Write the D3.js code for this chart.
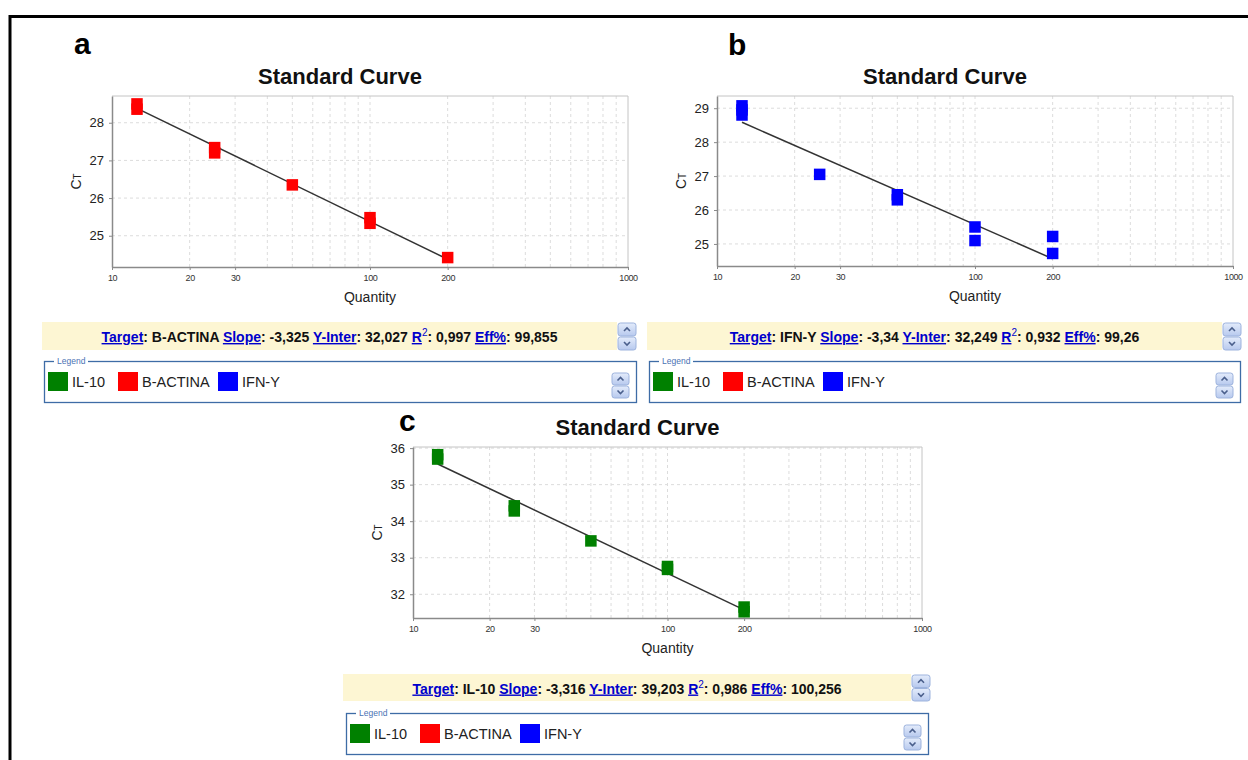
<!DOCTYPE html>
<html>
<head>
<meta charset="utf-8">
<script src="https://cdn.jsdelivr.net/npm/d3@7"></script>
<style>
  body { margin: 0; background: #fff; }
  svg { display: block; font-family: Arial, "Liberation Sans", sans-serif; }
</style>
</head>
<body>
<svg id="chart" width="1248" height="760"></svg>
<script>
// ---- data (quantity vs Ct, replicates) ----
const bActinaQty = [12.5, 12.5, 25, 25, 50, 100, 100, 200];
const bActinaCt  = [28.5, 28.36, 27.34, 27.2, 26.35, 25.48, 25.33, 24.42];
const bActinaStats = ["B-ACTINA", "-3,325", "32,027", "0,997", "99,855"];

const ifnQty = [12.5, 12.5, 12.5, 25, 50, 50, 100, 100, 200, 200];
const ifnCt  = [29.07, 28.95, 28.8, 27.05, 26.45, 26.3, 25.5, 25.1, 25.22, 24.72];
const ifnStats = ["IFN-Y", "-3,34", "32,249", "0,932", "99,26"];

const il10Qty = [12.5, 12.5, 25, 25, 50, 100, 100, 200, 200];
const il10Ct  = [35.82, 35.7, 34.42, 34.28, 33.46, 32.76, 32.68, 31.65, 31.52];
const il10Stats = ["IL-10", "-3,316", "39,203", "0,986", "100,256"];

const xTickLabels = [10, 20, 30, 100, 200, 1000];
const legendNames = ["IL-10", "B-ACTINA", "IFN-Y"];
const legendColors = ["#008000", "#ff0000", "#0000ff"];

const panels = [
  { letter: "a", qty: bActinaQty, ct: bActinaCt, stats: bActinaStats, color: "#ff0000",
    yDomain: [24.17, 28.71], yTicks: [25, 26, 27, 28],
    x0: 112, x1: 628, y0: 96, y1: 267, letterPos: [74, 54],
    bar: { x: 42, y: 322, w: 575, h: 28 }, legend: { x: 44, y: 361, w: 592, h: 41 } },
  { letter: "b", qty: ifnQty, ct: ifnCt, stats: ifnStats, color: "#0000ff",
    yDomain: [24.35, 29.36], yTicks: [25, 26, 27, 28, 29],
    x0: 717, x1: 1233, y0: 96, y1: 266, letterPos: [728, 55],
    bar: { x: 647, y: 322, w: 575, h: 28 }, legend: { x: 649, y: 361, w: 591, h: 41 } },
  { letter: "c", qty: il10Qty, ct: il10Ct, stats: il10Stats, color: "#008000",
    yDomain: [31.35, 36.03], yTicks: [32, 33, 34, 35, 36],
    x0: 413, x1: 922, y0: 447, y1: 618, letterPos: [399, 431],
    bar: { x: 343, y: 674, w: 568, h: 27 }, legend: { x: 346, y: 713, w: 582, h: 41 } }
];

const svg = d3.select("#chart");

// blue scroll-button gradient
const defs = svg.append("defs");
const grad = defs.append("linearGradient").attr("id", "btn").attr("x1", 0).attr("y1", 0).attr("x2", 0).attr("y2", 1);
grad.append("stop").attr("offset", "0%").attr("stop-color", "#e4ecfb");
grad.append("stop").attr("offset", "100%").attr("stop-color", "#b7c9ee");

// outer black frame
svg.append("rect")
  .attr("x", 10).attr("y", 16.5).attr("width", 1260).attr("height", 760)
  .attr("fill", "none").attr("stroke", "#000").attr("stroke-width", 3);

function scrollButtons(g, x, y, w, h) {
  [0, 1].forEach(i => {
    const by = y + i * (h / 2 + 0.5);
    g.append("rect")
      .attr("x", x).attr("y", by).attr("width", w).attr("height", h / 2 - 0.5)
      .attr("rx", 2.5).attr("fill", "url(#btn)").attr("stroke", "#9db3dd");
    const cx = x + w / 2, cy = by + (h / 2 - 0.5) / 2;
    const d = i === 0
      ? `M${cx - 3},${cy + 1.5}L${cx},${cy - 1.5}L${cx + 3},${cy + 1.5}`
      : `M${cx - 3},${cy - 1.5}L${cx},${cy + 1.5}L${cx + 3},${cy - 1.5}`;
    g.append("path").attr("d", d).attr("fill", "none").attr("stroke", "#4a5f8c").attr("stroke-width", 1.6);
  });
}

panels.forEach(p => {
  const g = svg.append("g");

  const x = d3.scaleLog().domain([10, 1000]).range([p.x0, p.x1]);
  const y = d3.scaleLinear().domain(p.yDomain).range([p.y1, p.y0]);

  // panel letter
  g.append("text")
    .attr("x", p.letterPos[0]).attr("y", p.letterPos[1])
    .attr("font-size", 30).attr("font-weight", "bold").text(p.letter);

  // title
  g.append("text")
    .attr("x", (p.x0 + p.x1) / 2 - 30).attr("y", p.y0 - 12)
    .attr("text-anchor", "middle").attr("font-size", 22).attr("font-weight", "bold")
    .attr("fill", "#111").text("Standard Curve");

  // grid
  g.append("g").selectAll("line").data(x.ticks().filter(d => d > 10 && d < 1000))
    .join("line")
    .attr("x1", d => x(d)).attr("x2", d => x(d)).attr("y1", p.y0).attr("y2", p.y1)
    .attr("stroke", "#dcdcdc").attr("stroke-dasharray", "3,3");
  g.append("g").selectAll("line").data(p.yTicks.filter(d => y(d) > p.y0 + 1))
    .join("line")
    .attr("x1", p.x0).attr("x2", p.x1).attr("y1", d => y(d)).attr("y2", d => y(d))
    .attr("stroke", "#dcdcdc").attr("stroke-dasharray", "3,3");

  // top / right frame
  g.append("path")
    .attr("d", `M${p.x0},${p.y0}H${p.x1}V${p.y1}`)
    .attr("fill", "none").attr("stroke", "#c4c4c4");

  // axes
  const xAxis = g.append("g").attr("transform", `translate(0,${p.y1})`)
    .call(d3.axisBottom(x).tickValues(xTickLabels).tickFormat(d3.format("d")).tickSize(3).tickSizeOuter(0).tickPadding(5));
  xAxis.selectAll("text").attr("font-size", 9).attr("fill", "#333").attr("letter-spacing", "-0.4");
  const yAxis = g.append("g").attr("transform", `translate(${p.x0},0)`)
    .call(d3.axisLeft(y).tickValues(p.yTicks).tickFormat(d3.format("d")).tickSize(3).tickSizeOuter(0).tickPadding(5));
  yAxis.selectAll("text").attr("font-size", 13).attr("fill", "#222");
  [xAxis, yAxis].forEach(a => {
    a.select(".domain").attr("stroke", "#8a8a8a").attr("stroke-width", 1.5);
    a.selectAll(".tick line").attr("stroke", "#8a8a8a");
    a.attr("font-family", null);
  });

  // axis titles
  g.append("text")
    .attr("x", (p.x0 + p.x1) / 2).attr("y", p.y1 + 35)
    .attr("text-anchor", "middle").attr("font-size", 14).attr("fill", "#222").text("Quantity");
  const ct = g.append("text")
    .attr("transform", `translate(${p.x0 - 31},${(p.y0 + p.y1) / 2}) rotate(-90)`)
    .attr("text-anchor", "middle").attr("fill", "#222");
  ct.append("tspan").attr("font-size", 14).text("C");
  ct.append("tspan").attr("font-size", 10).text("T");

  // fitted line from slope / intercept
  const slope = +p.stats[1].replace(",", ".");
  const inter = +p.stats[2].replace(",", ".");
  const ends = d3.extent(p.qty);
  g.append("path")
    .datum(ends)
    .attr("fill", "none").attr("stroke", "#333").attr("stroke-width", 1.5)
    .attr("d", d3.line().x(d => x(d)).y(d => y(slope * Math.log10(d) + inter)));

  // markers
  const ms = 11.5;
  g.append("g").selectAll("rect").data(p.qty.map((q, i) => [q, p.ct[i]]))
    .join("rect")
    .attr("x", d => x(d[0]) - ms / 2).attr("y", d => y(d[1]) - ms / 2)
    .attr("width", ms).attr("height", ms)
    .attr("fill", p.color);

  // stats bar
  const b = p.bar;
  g.append("rect").attr("x", b.x).attr("y", b.y).attr("width", b.w).attr("height", b.h).attr("fill", "#fdf6d3");
  scrollButtons(g, b.x + b.w + 1, b.y + 1, 18, b.h - 1);
  const parts = [
    { t: "Target", link: true }, { t: ": " + p.stats[0] + " " },
    { t: "Slope", link: true }, { t: ": " + p.stats[1] + " " },
    { t: "Y-Inter", link: true }, { t: ": " + p.stats[2] + " " },
    { t: "R", link: true }, { t: "2", link: true, sup: true }, { t: ": " + p.stats[3] + " ", after: true },
    { t: "Eff%", link: true }, { t: ": " + p.stats[4] }
  ];
  const st = g.append("text")
    .attr("x", b.x + b.w / 2).attr("y", b.y + b.h / 2 + 6)
    .attr("text-anchor", "middle").attr("font-size", 14).attr("font-weight", "bold").attr("fill", "#111");
  parts.forEach(pt => {
    const ts = st.append("tspan").text(pt.t);
    if (pt.link) ts.attr("fill", "#0000cc");
    if (pt.link && !pt.sup) ts.attr("text-decoration", "underline");
    if (pt.sup) ts.attr("dy", -6).attr("font-size", 10).attr("font-weight", "normal");
    if (pt.after) ts.attr("dy", 6);
  });

  // legend box
  const l = p.legend;
  g.append("rect").attr("x", l.x + 0.5).attr("y", l.y + 0.5).attr("width", l.w).attr("height", l.h)
    .attr("fill", "#fff").attr("stroke", "#3e6ca6").attr("stroke-width", 1.3);
  g.append("rect").attr("x", l.x + 10).attr("y", l.y - 4).attr("width", 34).attr("height", 8).attr("fill", "#fff");
  g.append("text").attr("x", l.x + 13).attr("y", l.y + 3).attr("font-size", 8.5).attr("fill", "#4a72b4").text("Legend");
  const offs = [4, 74, 174];
  legendNames.forEach((n, i) => {
    g.append("rect").attr("x", l.x + offs[i]).attr("y", l.y + 11).attr("width", 20).attr("height", 19)
      .attr("fill", legendColors[i]);
    g.append("text").attr("x", l.x + offs[i] + 24).attr("y", l.y + 26)
      .attr("font-size", 14.5).attr("fill", "#222").text(n);
  });
  scrollButtons(g, l.x + l.w - 24, l.y + 12, 17, 25);
});
</script>
</body>
</html>
